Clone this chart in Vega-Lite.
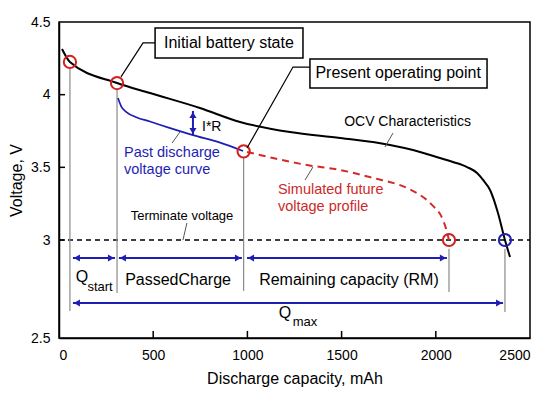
{
  "$schema": "https://vega.github.io/schema/vega-lite/v6.json",
  "width": 471,
  "height": 316,
  "autosize": {"type": "none"},
  "padding": {"left": 59, "top": 22, "right": 20, "bottom": 59},
  "background": "white",
  "config": {
    "font": "Liberation Sans",
    "view": {"stroke": "black", "strokeWidth": 1.5},
    "axis": {
      "grid": false,
      "ticks": false,
      "domainColor": "black",
      "domainWidth": 1.5,
      "labelFont": "Liberation Sans",
      "labelFontSize": 14,
      "labelColor": "black",
      "titleFont": "Liberation Sans",
      "titleFontSize": 16,
      "titleFontWeight": "normal",
      "titleColor": "black"
    }
  },
  "datasets": {
    "ocv": [
      {"x": 16, "v": 4.314}, {"x": 58, "v": 4.225}, {"x": 308, "v": 4.08}, {"x": 483, "v": 4.011},
      {"x": 748, "v": 3.908}, {"x": 961, "v": 3.812}, {"x": 1226, "v": 3.743}, {"x": 1492, "v": 3.702},
      {"x": 1757, "v": 3.654}, {"x": 1879, "v": 3.619}, {"x": 2022, "v": 3.564}, {"x": 2091, "v": 3.537},
      {"x": 2166, "v": 3.502}, {"x": 2219, "v": 3.461}, {"x": 2251, "v": 3.413}, {"x": 2288, "v": 3.344},
      {"x": 2330, "v": 3.186}, {"x": 2367, "v": 3.0}, {"x": 2394, "v": 2.913}
    ],
    "past": [
      {"x": 313, "v": 3.977}, {"x": 330, "v": 3.92}, {"x": 358, "v": 3.88}, {"x": 410, "v": 3.845},
      {"x": 483, "v": 3.815}, {"x": 590, "v": 3.77}, {"x": 711, "v": 3.722}, {"x": 855, "v": 3.67},
      {"x": 977, "v": 3.612}
    ],
    "future": [
      {"x": 998, "v": 3.606}, {"x": 1136, "v": 3.564}, {"x": 1316, "v": 3.516}, {"x": 1492, "v": 3.482},
      {"x": 1667, "v": 3.427}, {"x": 1847, "v": 3.358}, {"x": 1916, "v": 3.31}, {"x": 1953, "v": 3.275},
      {"x": 1985, "v": 3.235}, {"x": 2022, "v": 3.18}, {"x": 2038, "v": 3.138}, {"x": 2054, "v": 3.08},
      {"x": 2065, "v": 3.025}, {"x": 2070, "v": 3.0}
    ],
    "circles": [
      {"x": 58, "v": 4.225, "kind": "estimate"}, {"x": 308, "v": 4.08, "kind": "estimate"},
      {"x": 980, "v": 3.61, "kind": "estimate"}, {"x": 2070, "v": 3.0, "kind": "estimate"},
      {"x": 2367, "v": 3.0, "kind": "max"}
    ],
    "vlines": [
      {"x": 58, "v": 4.18, "v2": 2.638}, {"x": 308, "v": 4.035, "v2": 2.73},
      {"x": 980, "v": 3.565, "v2": 2.74}, {"x": 2070, "v": 2.955, "v2": 2.735},
      {"x": 2367, "v": 2.955, "v2": 2.633}
    ],
    "arrows": [
      {"x": 74, "x2": 297, "v": 2.908}, {"x": 318, "x2": 971, "v": 2.908},
      {"x": 998, "x2": 2059, "v": 2.908}, {"x": 74, "x2": 2357, "v": 2.679}
    ],
    "irArrow": [{"x": 711, "v": 3.888, "v2": 3.722}],
    "heads": [
      {"x": 95, "v": 2.908, "dir": "left"}, {"x": 276, "v": 2.908, "dir": "right"},
      {"x": 339, "v": 2.908, "dir": "left"}, {"x": 950, "v": 2.908, "dir": "right"},
      {"x": 1019, "v": 2.908, "dir": "left"}, {"x": 2038, "v": 2.908, "dir": "right"},
      {"x": 95, "v": 2.679, "dir": "left"}, {"x": 2336, "v": 2.679, "dir": "right"},
      {"x": 711, "v": 3.86, "dir": "up"}, {"x": 711, "v": 3.75, "dir": "down"}
    ],
    "leaders": [
      {"id": "a", "x": 329, "v": 4.122}, {"id": "a", "x": 446, "v": 4.356}, {"id": "a", "x": 510, "v": 4.356},
      {"id": "b", "x": 998, "v": 3.633}, {"id": "b", "x": 1242, "v": 4.19}, {"id": "b", "x": 1332, "v": 4.19}
    ],
    "pointers": [
      {"x": 1773, "x2": 1730, "v": 3.736, "v2": 3.64}, {"x": 642, "x2": 600, "v": 3.743, "v2": 3.667},
      {"x": 1348, "x2": 1306, "v": 3.502, "v2": 3.413}, {"x": 679, "x2": 658, "v": 3.117, "v2": 3.0}
    ],
    "boxes": [
      {"x": 510, "x2": 1295, "v": 4.459, "v2": 4.252}, {"x": 1332, "x2": 2272, "v": 4.245, "v2": 4.046}
    ],
    "xticks": [
      {"x": 500, "v": 2.5, "v2": 2.536}, {"x": 1000, "v": 2.5, "v2": 2.536},
      {"x": 1500, "v": 2.5, "v2": 2.536}, {"x": 2000, "v": 2.5, "v2": 2.536}
    ],
    "yticks": [
      {"x": 0, "x2": 32, "v": 3}, {"x": 0, "x2": 32, "v": 3.5}, {"x": 0, "x2": 32, "v": 4}
    ],
    "boxLabels": [
      {"x": 902, "v": 4.356, "label": "Initial battery state"},
      {"x": 1800, "v": 4.146, "label": "Present operating point"}
    ],
    "notes": [{"x": 1850, "v": 3.812, "label": "OCV Characteristics"}],
    "irLabel": [{"x": 759, "v": 3.775, "label": "I*R"}],
    "termLabel": [{"x": 653, "v": 3.165, "label": "Terminate voltage"}],
    "pastLabels": [
      {"x": 345, "v": 3.599, "label": "Past discharge"}, {"x": 345, "v": 3.482, "label": "voltage curve"}
    ],
    "futureLabels": [
      {"x": 1162, "v": 3.344, "label": "Simulated future"}, {"x": 1162, "v": 3.227, "label": "voltage profile"}
    ],
    "bottomLabels": [
      {"x": 122, "v": 2.811, "label": "Q"}, {"x": 632, "v": 2.796, "label": "PassedCharge"},
      {"x": 1539, "v": 2.796, "label": "Remaining capacity (RM)"}, {"x": 1200, "v": 2.628, "label": "Q"}
    ],
    "subLabels": [
      {"x": 218, "v": 2.76, "label": "start"}, {"x": 1306, "v": 2.582, "label": "max"}
    ],
    "term": [{"x": 0, "x2": 2500, "v": 3}]
  },
  "encoding": {
    "x": {
      "field": "x", "type": "quantitative",
      "scale": {"domain": [0, 2500], "nice": false, "zero": false},
      "axis": {"values": [0, 500, 1000, 1500, 2000, 2500], "format": "d", "title": "Discharge capacity, mAh", "labelPadding": 10, "titlePadding": 8}
    },
    "y": {
      "field": "v", "type": "quantitative",
      "scale": {"domain": [2.5, 3, 4.5], "range": [316, 218, 0], "nice": false, "zero": false},
      "axis": {"values": [2.5, 3, 3.5, 4, 4.5], "format": "~g", "title": "Voltage, V", "labelPadding": 9, "titlePadding": 6}
    }
  },
  "layer": [
    {"data": {"name": "xticks"}, "mark": {"type": "rule", "color": "black", "strokeWidth": 1.5}, "encoding": {"y2": {"field": "v2"}}},
    {"data": {"name": "yticks"}, "mark": {"type": "rule", "color": "black", "strokeWidth": 1.5}, "encoding": {"x2": {"field": "x2"}}},
    {"data": {"name": "term"}, "mark": {"type": "rule", "color": "black", "strokeWidth": 1.5, "strokeDash": [5, 4]}, "encoding": {"x2": {"field": "x2"}}},
    {"data": {"name": "vlines"}, "mark": {"type": "rule", "color": "#8a8a8a", "strokeWidth": 1.2}, "encoding": {"y2": {"field": "v2"}}},
    {"data": {"name": "arrows"}, "mark": {"type": "rule", "color": "#1e1eb4", "strokeWidth": 2}, "encoding": {"x2": {"field": "x2"}}},
    {"data": {"name": "irArrow"}, "mark": {"type": "rule", "color": "#1e1eb4", "strokeWidth": 2}, "encoding": {"y2": {"field": "v2"}}},
    {"data": {"name": "heads"}, "mark": {"type": "point", "filled": true, "opacity": 1, "color": "#1e1eb4", "size": 50},
     "encoding": {"shape": {"field": "dir", "type": "nominal", "legend": null,
       "scale": {"domain": ["left", "right", "up", "down"], "range": ["triangle-left", "triangle-right", "triangle-up", "triangle-down"]}}}},
    {"data": {"name": "ocv"}, "mark": {"type": "line", "color": "black", "strokeWidth": 2, "interpolate": "monotone"}},
    {"data": {"name": "past"}, "mark": {"type": "line", "color": "#1e1eb4", "strokeWidth": 1.7, "interpolate": "monotone"}},
    {"data": {"name": "future"}, "mark": {"type": "line", "color": "#d42a2a", "strokeWidth": 2, "strokeDash": [7, 5], "interpolate": "monotone"}},
    {"data": {"name": "circles"}, "mark": {"type": "point", "filled": false, "strokeWidth": 2, "size": 150, "opacity": 1},
     "encoding": {"color": {"field": "kind", "type": "nominal", "legend": null, "scale": {"domain": ["estimate", "max"], "range": ["#d42020", "#2020b0"]}}}},
    {"data": {"name": "leaders"}, "mark": {"type": "line", "color": "black", "strokeWidth": 1.2}, "encoding": {"detail": {"field": "id"}}},
    {"data": {"name": "pointers"}, "mark": {"type": "rule", "color": "#555555", "strokeWidth": 1}, "encoding": {"x2": {"field": "x2"}, "y2": {"field": "v2"}}},
    {"data": {"name": "boxes"}, "mark": {"type": "rect", "fill": "white", "stroke": "black", "strokeWidth": 1.5}, "encoding": {"x2": {"field": "x2"}, "y2": {"field": "v2"}}},
    {"data": {"name": "boxLabels"}, "mark": {"type": "text", "fontSize": 16, "color": "black", "baseline": "middle", "align": "center"}, "encoding": {"text": {"field": "label"}}},
    {"data": {"name": "notes"}, "mark": {"type": "text", "fontSize": 14, "color": "black", "baseline": "middle", "align": "center"}, "encoding": {"text": {"field": "label"}}},
    {"data": {"name": "irLabel"}, "mark": {"type": "text", "fontSize": 14, "color": "black", "baseline": "middle", "align": "left"}, "encoding": {"text": {"field": "label"}}},
    {"data": {"name": "termLabel"}, "mark": {"type": "text", "fontSize": 13, "color": "black", "baseline": "middle", "align": "center"}, "encoding": {"text": {"field": "label"}}},
    {"data": {"name": "pastLabels"}, "mark": {"type": "text", "fontSize": 14.5, "color": "#1e1eb4", "baseline": "middle", "align": "left"}, "encoding": {"text": {"field": "label"}}},
    {"data": {"name": "futureLabels"}, "mark": {"type": "text", "fontSize": 14.5, "color": "#cc2a2a", "baseline": "middle", "align": "left"}, "encoding": {"text": {"field": "label"}}},
    {"data": {"name": "bottomLabels"}, "mark": {"type": "text", "fontSize": 16, "color": "black", "baseline": "middle", "align": "center"}, "encoding": {"text": {"field": "label"}}},
    {"data": {"name": "subLabels"}, "mark": {"type": "text", "fontSize": 13, "color": "black", "baseline": "middle", "align": "center"}, "encoding": {"text": {"field": "label"}}}
  ]
}
